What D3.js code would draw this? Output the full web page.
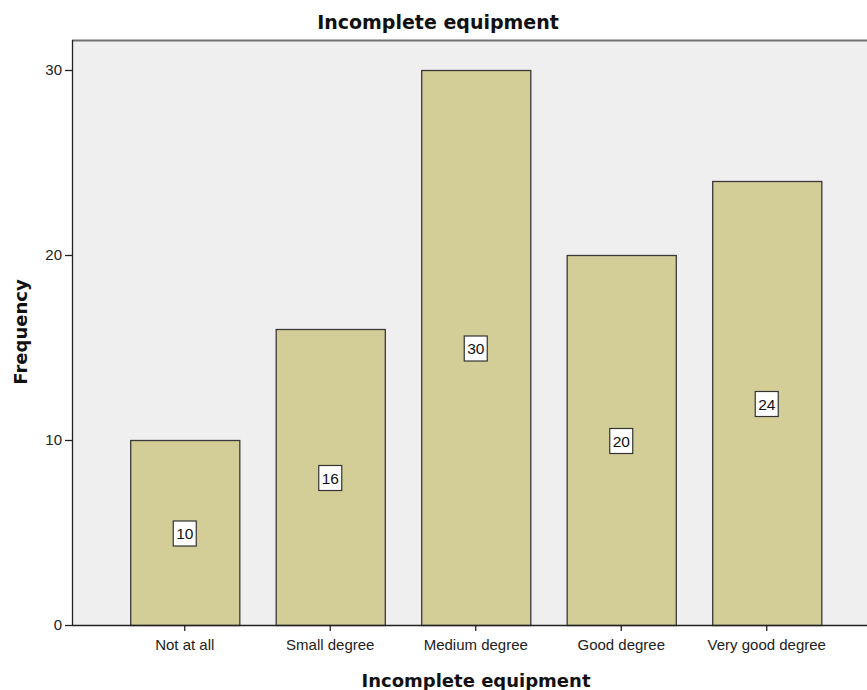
<!DOCTYPE html>
<html>
<head>
<meta charset="utf-8">
<script src="https://cdn.jsdelivr.net/npm/d3@7"></script>
<style>
  html, body { margin: 0; padding: 0; background: #fff; }
  svg { display: block; }
</style>
</head>
<body>
<script>
// Frequency of responses per category
const categories = ["Not at all", "Small degree", "Medium degree", "Good degree", "Very good degree"];
const frequencies = [10, 16, 30, 20, 24];
const yTicks = [0, 10, 20, 30];
const chartTitle = "Incomplete equipment";
const xTitle = "Incomplete equipment";
const yTitle = "Frequency";

const width = 867, height = 690;
const plot = { left: 72, top: 40, right: 867, bottom: 625 };

const svg = d3.select("body").append("svg")
  .attr("width", width).attr("height", height);

// Plot background
svg.append("rect")
  .attr("x", plot.left).attr("y", plot.top)
  .attr("width", plot.right - plot.left).attr("height", plot.bottom - plot.top)
  .attr("fill", "#efefef");

// Top frame line
svg.append("line")
  .attr("x1", plot.left).attr("x2", plot.right)
  .attr("y1", plot.top + 0.5).attr("y2", plot.top + 0.5)
  .attr("stroke", "#707070").attr("stroke-width", 2);

const x = d3.scaleBand()
  .domain(categories)
  .range([112, 839.5])
  .paddingInner(0.25)
  .paddingOuter(0.125);

const y = d3.scaleLinear()
  .domain([0, 30])
  .range([plot.bottom, 70]);

// Bars
svg.append("g").selectAll("rect")
  .data(frequencies)
  .join("rect")
  .attr("x", (d, i) => x(categories[i]) + 0.5)
  .attr("y", d => y(d) + 0.5)
  .attr("width", x.bandwidth())
  .attr("height", d => y(0) - y(d))
  .attr("fill", "#d3ce97")
  .attr("stroke", "#3a3a3a")
  .attr("stroke-width", 1.3);

// Value labels at half-height
const labels = svg.append("g").selectAll("g")
  .data(frequencies)
  .join("g")
  .attr("transform", (d, i) => `translate(${x(categories[i]) + x.bandwidth() / 2},${y(d / 2) + 1})`);

labels.append("rect")
  .attr("x", -11.5).attr("y", -12.5)
  .attr("width", 23).attr("height", 25)
  .attr("fill", "#fff")
  .attr("stroke", "#333")
  .attr("stroke-width", 1.2);

labels.append("text")
  .attr("text-anchor", "middle")
  .attr("dy", "0.36em")
  .attr("font-family", "Liberation Sans, Arial, sans-serif")
  .attr("font-size", 15.5)
  .attr("fill", "#111")
  .text(d => d);

// Y axis
const yAxis = svg.append("g")
  .attr("transform", `translate(${plot.left},0)`)
  .call(d3.axisLeft(y).tickValues(yTicks).tickSize(7).tickPadding(3).tickFormat(d3.format("d")));
yAxis.select(".domain").attr("d", `M0.5,${plot.top}V${plot.bottom}`).attr("stroke", "#222").attr("stroke-width", 1.3);
yAxis.selectAll(".tick line").attr("stroke", "#222").attr("stroke-width", 1.3);
yAxis.selectAll(".tick text")
  .attr("font-family", "Liberation Sans, Arial, sans-serif")
  .attr("font-size", 15).attr("fill", "#222");

// X axis
const xAxis = svg.append("g")
  .attr("transform", `translate(0,${plot.bottom})`)
  .call(d3.axisBottom(x).tickSize(6).tickPadding(8));
xAxis.select(".domain").attr("d", `M${plot.left},0.5H${plot.right}`).attr("stroke", "#222").attr("stroke-width", 1.3);
xAxis.selectAll(".tick line").attr("stroke", "#222").attr("stroke-width", 1.3);
xAxis.selectAll(".tick text")
  .attr("font-family", "Liberation Sans, Arial, sans-serif")
  .attr("font-size", 15).attr("fill", "#222");

// Titles
svg.append("text")
  .attr("x", 438).attr("y", 29)
  .attr("text-anchor", "middle")
  .attr("font-family", "DejaVu Sans, Verdana, sans-serif")
  .attr("font-weight", "bold")
  .attr("font-size", 19)
  .attr("fill", "#111")
  .text(chartTitle);

svg.append("text")
  .attr("x", 476).attr("y", 687)
  .attr("text-anchor", "middle")
  .attr("font-family", "DejaVu Sans, Verdana, sans-serif")
  .attr("font-weight", "bold")
  .attr("font-size", 18)
  .attr("fill", "#111")
  .text(xTitle);

svg.append("text")
  .attr("transform", "translate(27,332) rotate(-90)")
  .attr("text-anchor", "middle")
  .attr("font-family", "DejaVu Sans, Verdana, sans-serif")
  .attr("font-weight", "bold")
  .attr("font-size", 18)
  .attr("fill", "#111")
  .text(yTitle);
</script>
</body>
</html>
